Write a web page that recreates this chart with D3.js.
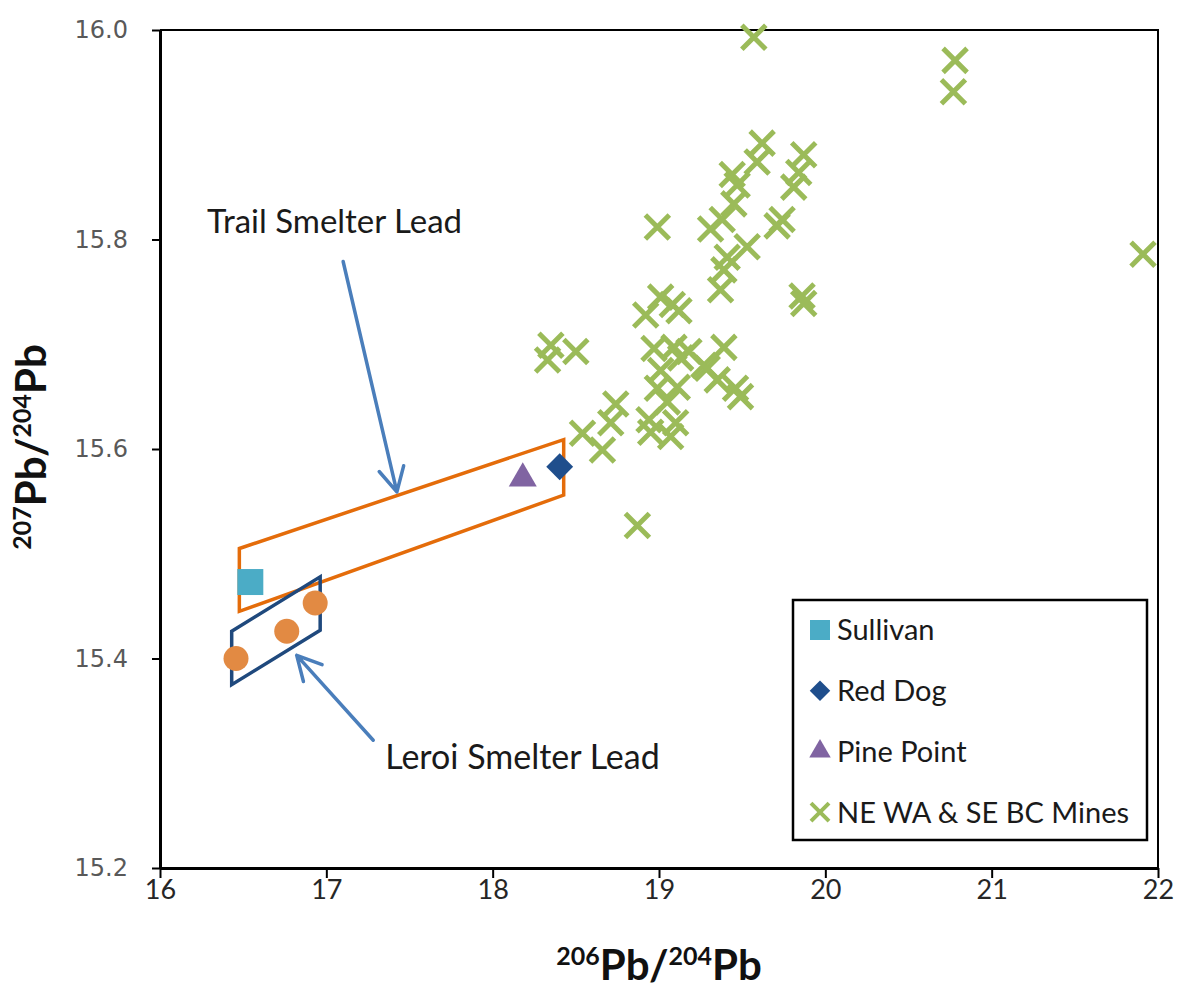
<!DOCTYPE html>
<html>
<head>
<meta charset="utf-8">
<script src="https://cdn.jsdelivr.net/npm/d3@7"></script>
<style>
  body { margin: 0; background: #fff; }
  svg { display: block; }
</style>
</head>
<body>
<div id="graph"></div>
<script>
// values
const xTicks = [16, 17, 18, 19, 20, 21, 22];
const yTicks = [15.2, 15.4, 15.6, 15.8, 16.0];

const sullivan = [[16.543, 15.473]];
const redDog = [[18.403, 15.583]];
const pinePoint = [[18.181, 15.572]];
const leroiSamples = [[16.457, 15.400], [16.762, 15.426], [16.933, 15.453]];

const neWaSeBcMines = [
  [19.57, 15.993], [20.78, 15.971], [20.77, 15.941], [21.91, 15.786], [18.87, 15.527],
  [19.87, 15.881], [19.84, 15.864], [19.62, 15.892], [19.59, 15.874], [19.44, 15.862],
  [19.47, 15.852], [19.81, 15.850], [19.74, 15.819], [19.71, 15.813], [19.45, 15.834],
  [19.38, 15.819], [19.31, 15.810], [19.53, 15.793], [19.41, 15.783], [19.39, 15.771],
  [19.37, 15.752], [18.99, 15.812], [19.86, 15.746], [19.87, 15.739], [19.01, 15.745],
  [19.08, 15.738], [19.12, 15.732], [18.92, 15.728], [18.35, 15.699], [18.33, 15.685],
  [18.50, 15.693], [18.97, 15.696], [19.09, 15.697], [19.18, 15.693], [19.13, 15.687],
  [19.39, 15.697], [19.01, 15.675], [19.27, 15.680], [19.35, 15.666], [19.46, 15.658],
  [19.49, 15.650], [19.11, 15.659], [19.05, 15.645], [18.74, 15.643], [18.71, 15.625],
  [18.54, 15.615], [18.66, 15.599], [18.94, 15.628], [18.95, 15.616], [19.10, 15.625],
  [19.07, 15.612], [19.29, 15.677], [18.99, 15.658]
];

// outlined fields and their annotations
const trailField = [[16.477, 15.505], [18.427, 15.609], [18.427, 15.556], [16.477, 15.445]];
const leroiField = [[16.431, 15.426], [16.963, 15.478], [16.963, 15.427], [16.431, 15.375]];
const trailArrow = [[17.101, 15.779], [17.424, 15.559]];
const leroiArrow = [[17.282, 15.322], [16.822, 15.403]];
const trailLabel = [16.283, 15.817];
const leroiLabel = [17.354, 15.306];

const legendItems = ["Sullivan", "Red Dog", "Pine Point", "NE WA & SE BC Mines"];

(function() {
  const W = 1181, H = 988;
  const margin = {top: 30, right: 23, bottom: 120, left: 160};

  const colors = {
    sullivan: "#4bacc6",
    redDog: "#1f4e8c",
    pine: "#8064a2",
    mines: "#9bbb59",
    leroi: "#e28a43",
    trail: "#e46c0a",
    leroiBox: "#1f497d",
    arrow: "#4a7ebb"
  };

  const svg = d3.select("#graph").append("svg")
    .attr("width", W)
    .attr("height", H);

  const x = d3.scaleLinear().domain([16, 22]).range([margin.left, W - margin.right]);
  const y = d3.scaleLinear().domain([15.2, 16.0]).range([H - margin.bottom, margin.top]);

  // frame top and right
  svg.append("path")
    .attr("d", `M${x(16)},${y(16)}H${x(22)}V${y(15.2)}`)
    .attr("fill", "none")
    .attr("stroke", "#000")
    .attr("stroke-width", 2);

  const xAxis = svg.append("g")
    .attr("transform", `translate(0,${y(15.2)})`)
    .call(d3.axisBottom(x).tickValues(xTicks).tickSize(10).tickSizeOuter(0).tickFormat(d3.format("d")));
  xAxis.select(".domain").attr("stroke-width", 3);
  xAxis.selectAll(".tick line").attr("stroke-width", 2);
  xAxis.selectAll(".tick text")
    .attr("y", 12)
    .attr("dy", "0.71em")
    .style("font-family", "Lato, 'Open Sans', sans-serif")
    .style("font-size", "27px")
    .attr("fill", "#262626");

  const yAxis = svg.append("g")
    .attr("transform", `translate(${x(16)},0)`)
    .call(d3.axisLeft(y).tickValues(yTicks).tickSize(8).tickSizeOuter(0).tickFormat(d3.format(".1f")));
  yAxis.select(".domain").attr("stroke-width", 3);
  yAxis.selectAll(".tick line").attr("stroke-width", 2);
  yAxis.selectAll(".tick text")
    .attr("x", -32)
    .style("font-family", "'DejaVu Sans', Verdana, sans-serif")
    .style("font-size", "24px")
    .attr("fill", "#595959");

  // axis titles with superscript mass numbers
  const isoTitle = (g, a, b) => {
    const t = g.append("text")
      .attr("text-anchor", "middle")
      .style("font-family", "Lato, sans-serif")
      .style("font-weight", "bold")
      .style("font-size", "42px")
      .attr("fill", "#111");
    t.append("tspan").text(a).style("font-size", "25px").attr("baseline-shift", "super");
    t.append("tspan").text("Pb/");
    t.append("tspan").text(b).style("font-size", "25px").attr("baseline-shift", "super");
    t.append("tspan").text("Pb");
    return t;
  };
  isoTitle(svg.append("g").attr("transform", `translate(${(x(16) + x(22)) / 2},980)`), "206", "204");
  isoTitle(svg.append("g").attr("transform", `translate(46,${(y(15.2) + y(16)) / 2 - 2}) rotate(-90)`), "207", "204");

  const line = d3.line().x(d => x(d[0])).y(d => y(d[1]));

  // smelter fields
  svg.append("path")
    .attr("d", line(trailField) + "Z")
    .attr("fill", "none")
    .attr("stroke", colors.trail)
    .attr("stroke-width", 3.5);
  svg.append("path")
    .attr("d", line(leroiField) + "Z")
    .attr("fill", "none")
    .attr("stroke", colors.leroiBox)
    .attr("stroke-width", 3.5);

  // arrows with open heads
  const arrow = (pts) => {
    const [x0, y0] = [x(pts[0][0]), y(pts[0][1])];
    const [x1, y1] = [x(pts[1][0]), y(pts[1][1])];
    const ang = Math.atan2(y1 - y0, x1 - x0);
    const len = 27, spread = Math.PI / 6.5;
    const a1 = [x1 - len * Math.cos(ang - spread), y1 - len * Math.sin(ang - spread)];
    const a2 = [x1 - len * Math.cos(ang + spread), y1 - len * Math.sin(ang + spread)];
    svg.append("path")
      .attr("d", `M${x0},${y0}L${x1},${y1}M${a1[0]},${a1[1]}L${x1},${y1}L${a2[0]},${a2[1]}`)
      .attr("fill", "none")
      .attr("stroke", colors.arrow)
      .attr("stroke-width", 3.5)
      .attr("stroke-linecap", "round")
      .attr("stroke-linejoin", "round");
  };
  arrow(trailArrow);
  arrow(leroiArrow);

  const labelStyle = (t, size) => t
    .style("font-family", "Lato, 'Open Sans', sans-serif")
    .style("font-size", size + "px")
    .attr("dy", "0.35em")
    .attr("fill", "#1a1a1a");
  labelStyle(svg.append("text").attr("x", x(trailLabel[0])).attr("y", y(trailLabel[1])).text("Trail Smelter Lead"), 33);
  labelStyle(svg.append("text").attr("x", x(leroiLabel[0])).attr("y", y(leroiLabel[1])).text("Leroi Smelter Lead"), 34);

  // marker shapes
  const xMark = (s) => `M${-s},${-s}L${s},${s}M${-s},${s}L${s},${-s}`;
  const square = d3.symbol().type(d3.symbolSquare);
  const tri = d3.symbol().type(d3.symbolTriangle);

  svg.append("g").selectAll("path")
    .data(neWaSeBcMines)
    .join("path")
    .attr("transform", d => `translate(${x(d[0])},${y(d[1])})`)
    .attr("d", xMark(12))
    .attr("stroke", colors.mines)
    .attr("stroke-width", 5)
    .attr("fill", "none");

  svg.append("g").selectAll("circle")
    .data(leroiSamples)
    .join("circle")
    .attr("cx", d => x(d[0]))
    .attr("cy", d => y(d[1]))
    .attr("r", 12.5)
    .attr("fill", colors.leroi);

  svg.append("g").selectAll("path")
    .data(sullivan)
    .join("path")
    .attr("transform", d => `translate(${x(d[0])},${y(d[1])})`)
    .attr("d", square.size(26 * 26)())
    .attr("fill", colors.sullivan);

  svg.append("g").selectAll("path")
    .data(redDog)
    .join("path")
    .attr("transform", d => `translate(${x(d[0])},${y(d[1])}) rotate(45)`)
    .attr("d", square.size(19 * 19)())
    .attr("fill", colors.redDog);

  svg.append("g").selectAll("path")
    .data(pinePoint)
    .join("path")
    .attr("transform", d => `translate(${x(d[0])},${y(d[1])})`)
    .attr("d", tri.size(340)())
    .attr("fill", colors.pine);

  // legend
  const lg = svg.append("g").attr("transform", "translate(793,600)");
  lg.append("rect")
    .attr("width", 354)
    .attr("height", 240)
    .attr("fill", "#fff")
    .attr("stroke", "#000")
    .attr("stroke-width", 2.5);

  const rows = lg.selectAll("g.row")
    .data(legendItems)
    .join("g")
    .attr("class", "row")
    .attr("transform", (d, i) => `translate(27,${30 + i * 60.7})`);

  rows.each(function(d, i) {
    const g = d3.select(this);
    if (i === 0) g.append("path").attr("d", square.size(20 * 20)()).attr("fill", colors.sullivan);
    if (i === 1) g.append("path").attr("d", square.size(14.5 * 14.5)()).attr("transform", "rotate(45)").attr("fill", colors.redDog);
    if (i === 2) g.append("path").attr("d", tri.size(200)()).attr("fill", colors.pine);
    if (i === 3) g.append("path").attr("d", xMark(9)).attr("stroke", colors.mines).attr("stroke-width", 4).attr("fill", "none");
  });

  rows.append("text")
    .attr("x", 17)
    .attr("dy", "0.36em")
    .style("font-family", "Lato, 'Open Sans', sans-serif")
    .style("font-size", "29px")
    .attr("fill", "#1a1a1a")
    .text(d => d);
})();
</script>
</body>
</html>
